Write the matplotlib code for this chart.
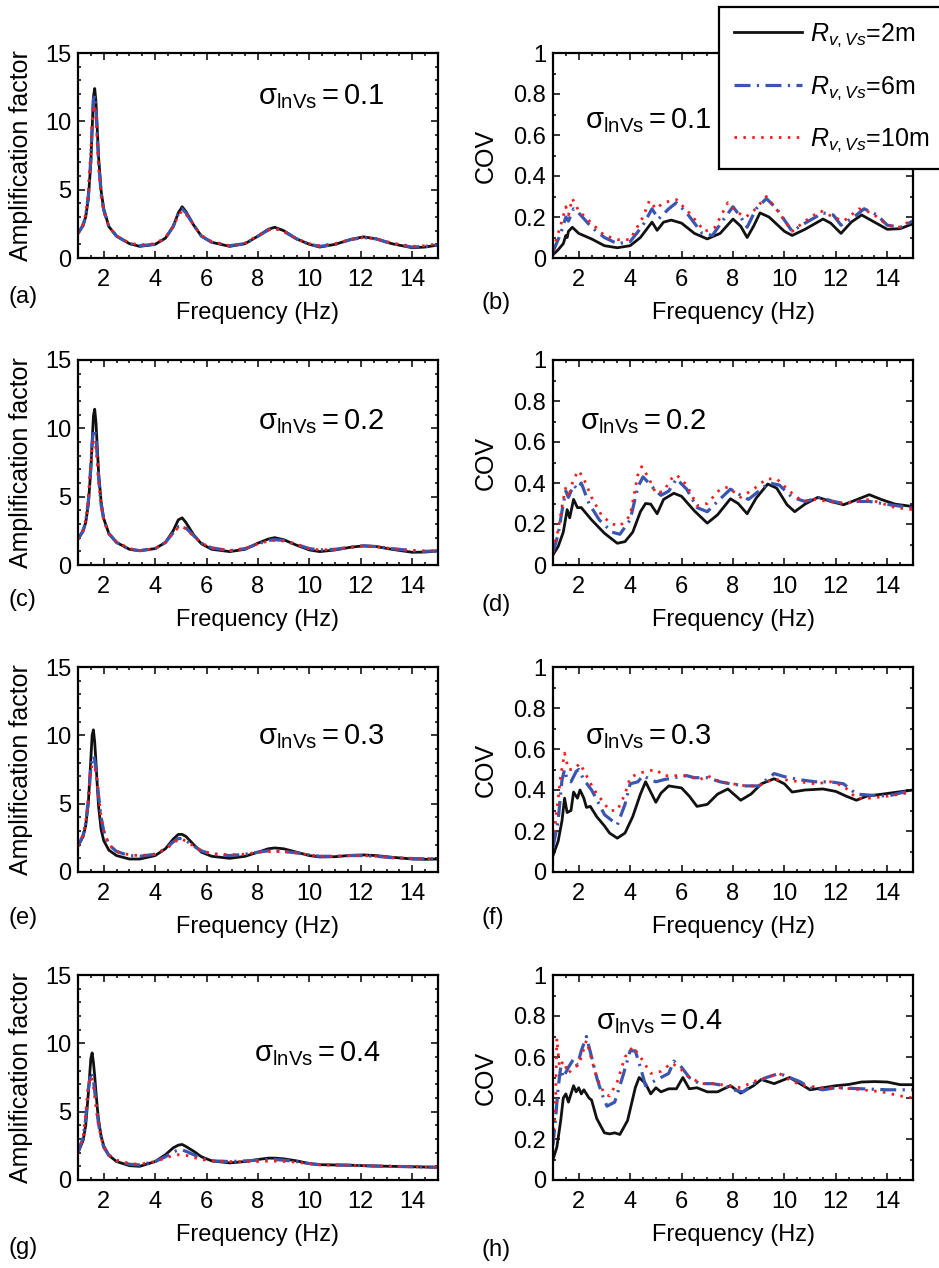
import matplotlib
matplotlib.use('Agg')
import matplotlib.pyplot as plt
from matplotlib.ticker import MultipleLocator

plt.rcParams['font.family'] = ['Liberation Sans', 'DejaVu Sans']
plt.rcParams['mathtext.fontset'] = 'custom'
plt.rcParams['mathtext.rm'] = 'Liberation Sans'
plt.rcParams['mathtext.it'] = 'Liberation Sans:italic'

# amplification factor panels share one frequency grid
f_amp = [1.0, 1.2, 1.3, 1.4, 1.5, 1.55, 1.6, 1.65, 1.7, 1.75, 1.8, 1.9, 2.0, 2.2, 2.5,
         3.0, 3.4, 4.0, 4.4, 4.7, 4.9, 5.05, 5.2, 5.5, 5.8, 6.2, 6.9, 7.5, 8.0, 8.4,
         8.65, 9.0, 9.5, 10.0, 10.4, 11.0, 11.6, 12.1, 12.6, 13.2, 14.0, 14.5, 15.0]

# (a) sigma = 0.1
amp_a_2m = [1.8, 2.4, 3.0, 4.3, 7.0, 9.4, 11.8, 12.4, 11.4, 9.4, 7.4, 4.9, 3.6, 2.3, 1.6,
            1.05, 0.85, 1.0, 1.45, 2.3, 3.3, 3.75, 3.4, 2.4, 1.6, 1.15, 0.85, 1.05, 1.6, 2.1,
            2.25, 2.0, 1.4, 1.0, 0.8, 1.0, 1.35, 1.55, 1.4, 1.05, 0.75, 0.8, 0.95]
amp_a_6m = [1.8, 2.4, 3.1, 4.5, 7.3, 9.6, 11.6, 11.9, 10.8, 8.9, 7.0, 4.7, 3.5, 2.3, 1.6,
            1.05, 0.9, 1.0, 1.45, 2.3, 3.2, 3.6, 3.3, 2.4, 1.6, 1.15, 0.9, 1.05, 1.6, 2.05,
            2.2, 1.95, 1.4, 1.0, 0.85, 1.0, 1.35, 1.5, 1.4, 1.05, 0.8, 0.85, 0.95]
amp_a_10m = [1.8, 2.5, 3.2, 4.8, 7.8, 10.0, 11.0, 11.2, 10.2, 8.4, 6.6, 4.5, 3.4, 2.3, 1.6,
             1.1, 0.95, 1.05, 1.5, 2.3, 3.1, 3.45, 3.2, 2.4, 1.65, 1.2, 0.9, 1.1, 1.65, 2.05,
             2.15, 1.95, 1.4, 1.05, 0.9, 1.05, 1.35, 1.5, 1.4, 1.1, 0.85, 0.9, 1.05]

# (c) sigma = 0.2
amp_c_2m = [1.9, 2.5, 3.1, 4.4, 7.0, 9.0, 10.9, 11.4, 10.4, 8.6, 6.8, 4.6, 3.4, 2.3, 1.65,
            1.15, 1.05, 1.2, 1.65, 2.5, 3.3, 3.45, 3.1, 2.2, 1.55, 1.15, 0.98, 1.15, 1.6, 1.9,
            2.0, 1.85, 1.45, 1.1, 0.98, 1.1, 1.3, 1.4, 1.35, 1.15, 0.93, 0.95, 1.03]
amp_c_6m = [1.9, 2.5, 3.2, 4.6, 7.3, 8.9, 9.9, 9.9, 9.2, 7.9, 6.4, 4.4, 3.3, 2.3, 1.65,
            1.15, 1.05, 1.2, 1.65, 2.35, 2.8, 2.85, 2.7, 2.15, 1.6, 1.25, 1.05, 1.2, 1.55, 1.8,
            1.85, 1.8, 1.5, 1.2, 1.1, 1.15, 1.3, 1.4, 1.35, 1.2, 1.05, 1.0, 1.03]
amp_c_10m = [1.9, 2.6, 3.3, 4.8, 7.4, 8.6, 9.1, 9.0, 8.5, 7.5, 6.1, 4.3, 3.3, 2.3, 1.7,
             1.2, 1.05, 1.2, 1.65, 2.35, 2.75, 2.8, 2.65, 2.1, 1.6, 1.25, 1.05, 1.2, 1.55, 1.75,
             1.8, 1.75, 1.5, 1.2, 1.1, 1.15, 1.3, 1.4, 1.35, 1.2, 1.05, 1.02, 1.05]

# (e) sigma = 0.3
amp_e_2m = [1.9, 2.6, 3.4, 5.0, 8.3, 10.0, 10.4, 9.5, 8.0, 6.3, 4.8, 3.1, 2.3, 1.6, 1.2,
            0.95, 0.95, 1.2, 1.7, 2.4, 2.75, 2.75, 2.6, 2.0, 1.45, 1.15, 1.0, 1.15, 1.45, 1.7,
            1.76, 1.7, 1.45, 1.2, 1.1, 1.12, 1.22, 1.25, 1.2, 1.08, 0.95, 0.93, 0.95]
amp_e_6m = [1.9, 2.7, 3.6, 5.2, 7.6, 8.3, 8.5, 8.2, 7.5, 6.6, 5.6, 4.0, 3.0, 2.0, 1.5,
            1.2, 1.15, 1.3, 1.7, 2.2, 2.45, 2.45, 2.3, 1.9, 1.55, 1.3, 1.2, 1.3, 1.45, 1.55,
            1.55, 1.5, 1.4, 1.25, 1.15, 1.15, 1.2, 1.2, 1.15, 1.05, 0.98, 0.97, 0.97]
amp_e_10m = [1.9, 2.7, 3.7, 5.3, 7.4, 7.8, 7.9, 7.7, 7.2, 6.4, 5.5, 4.0, 3.0, 2.0, 1.5,
             1.25, 1.2, 1.3, 1.65, 2.1, 2.4, 2.4, 2.25, 1.9, 1.55, 1.35, 1.25, 1.3, 1.45, 1.5,
             1.5, 1.5, 1.4, 1.25, 1.15, 1.15, 1.2, 1.2, 1.15, 1.05, 1.0, 0.98, 0.98]

# (g) sigma = 0.4
amp_g_2m = [2.0, 2.9, 4.0, 6.3, 8.9, 9.3, 8.6, 7.6, 6.4, 5.3, 4.4, 3.2, 2.5, 1.8, 1.35,
            1.05, 1.0, 1.35, 1.85, 2.35, 2.55, 2.6, 2.45, 2.1, 1.7, 1.4, 1.25, 1.35, 1.5, 1.6,
            1.6, 1.55, 1.4, 1.2, 1.12, 1.1, 1.08, 1.05, 1.02, 1.0, 0.97, 0.95, 0.93]
amp_g_6m = [2.0, 3.1, 4.5, 6.6, 7.9, 7.8, 7.3, 6.5, 5.6, 4.8, 4.1, 3.1, 2.4, 1.8, 1.4,
            1.15, 1.1, 1.35, 1.7, 2.05, 2.2, 2.2, 2.1, 1.85, 1.6, 1.4, 1.35, 1.4, 1.45, 1.5,
            1.5, 1.45, 1.35, 1.2, 1.12, 1.1, 1.08, 1.05, 1.02, 1.0, 0.97, 0.95, 0.93]
amp_g_10m = [2.0, 3.2, 4.8, 6.9, 7.6, 7.4, 6.9, 6.2, 5.4, 4.7, 4.0, 3.1, 2.4, 1.85, 1.45,
             1.2, 1.15, 1.35, 1.6, 1.8, 1.85, 1.85, 1.8, 1.65, 1.5, 1.4, 1.35, 1.35, 1.35, 1.38,
             1.38, 1.36, 1.3, 1.2, 1.12, 1.1, 1.08, 1.05, 1.02, 1.0, 0.97, 0.95, 0.93]

# (b) COV, sigma = 0.1
f_b_2m = [1.0, 1.2, 1.4, 1.5, 1.55, 1.6, 1.75, 2.0, 2.5, 3.0, 3.5, 4.0, 4.4, 4.7, 4.85,
          5.05, 5.3, 5.6, 6.0, 6.5, 7.0, 7.5, 8.0, 8.3, 8.55, 8.8, 9.05, 9.4, 10.0, 10.3,
          10.8, 11.5, 11.8, 12.2, 12.6, 13.0, 13.5, 14.0, 14.5, 15.0]
cov_b_2m = [0.016, 0.04, 0.07, 0.11, 0.10, 0.13, 0.15, 0.12, 0.093, 0.06, 0.05, 0.06, 0.10,
            0.15, 0.175, 0.135, 0.175, 0.185, 0.17, 0.12, 0.093, 0.12, 0.19, 0.155, 0.10,
            0.155, 0.22, 0.20, 0.13, 0.11, 0.14, 0.19, 0.17, 0.12, 0.175, 0.21, 0.175, 0.14,
            0.143, 0.167]
f_b_6m = [1.0, 1.3, 1.5, 1.6, 1.8, 2.0, 2.5, 3.0, 3.5, 4.0, 4.5, 4.85, 5.1, 5.5, 5.8, 6.2,
          6.8, 7.2, 7.7, 8.0, 8.3, 8.55, 8.9, 9.3, 9.7, 10.3, 10.8, 11.5, 11.9, 12.2, 12.7,
          13.1, 13.6, 14.0, 14.5, 15.0]
cov_b_6m = [0.03, 0.12, 0.20, 0.18, 0.24, 0.22, 0.15, 0.10, 0.07, 0.08, 0.16, 0.24, 0.19,
            0.24, 0.27, 0.22, 0.12, 0.11, 0.20, 0.25, 0.20, 0.15, 0.24, 0.29, 0.24, 0.13,
            0.17, 0.22, 0.21, 0.16, 0.20, 0.24, 0.21, 0.16, 0.15, 0.18]
f_b_10m = [1.0, 1.3, 1.5, 1.6, 1.75, 2.0, 2.5, 3.0, 3.5, 4.0, 4.5, 4.75, 5.0, 5.3, 5.8, 6.3,
           6.9, 7.3, 7.8, 8.2, 8.5, 8.8, 9.3, 9.8, 10.3, 10.8, 11.4, 11.9, 12.3, 12.9, 13.4,
           14.0, 14.5, 15.0]
cov_b_10m = [0.04, 0.16, 0.25, 0.21, 0.29, 0.23, 0.17, 0.11, 0.09, 0.09, 0.20, 0.28, 0.24,
             0.27, 0.285, 0.22, 0.13, 0.15, 0.27, 0.22, 0.20, 0.23, 0.30, 0.22, 0.13, 0.18,
             0.23, 0.20, 0.18, 0.24, 0.22, 0.16, 0.15, 0.19]

# (d) COV, sigma = 0.2
f_d_2m = [1.0, 1.2, 1.4, 1.55, 1.65, 1.8, 1.95, 2.1, 2.5, 3.0, 3.5, 3.8, 4.1, 4.4, 4.6, 4.8,
          5.05, 5.3, 5.7, 6.0, 6.5, 7.0, 7.4, 7.9, 8.2, 8.55, 8.9, 9.35, 9.7, 10.1, 10.4,
          10.8, 11.3, 11.8, 12.3, 12.8, 13.3, 13.8, 14.3, 15.0]
cov_d_2m = [0.05, 0.09, 0.16, 0.27, 0.23, 0.32, 0.28, 0.28, 0.22, 0.155, 0.106, 0.114, 0.16,
            0.26, 0.30, 0.297, 0.25, 0.32, 0.35, 0.335, 0.264, 0.204, 0.245, 0.323, 0.30,
            0.25, 0.326, 0.395, 0.375, 0.294, 0.26, 0.297, 0.33, 0.31, 0.294, 0.318, 0.343,
            0.318, 0.297, 0.285]
f_d_6m = [1.0, 1.2, 1.4, 1.5, 1.6, 1.8, 1.95, 2.1, 2.4, 2.8, 3.3, 3.6, 4.0, 4.3, 4.5, 4.8,
          5.0, 5.2, 5.5, 5.8, 6.2, 6.6, 7.0, 7.4, 7.9, 8.3, 8.6, 9.0, 9.4, 9.8, 10.3, 10.8,
          11.4, 11.9, 12.3, 12.8, 13.3, 13.8, 14.3, 15.0]
cov_d_6m = [0.06, 0.15, 0.30, 0.36, 0.33, 0.39, 0.37, 0.40, 0.30, 0.22, 0.16, 0.15, 0.22,
            0.38, 0.43, 0.39, 0.36, 0.34, 0.36, 0.42, 0.37, 0.28, 0.26, 0.31, 0.37, 0.34,
            0.32, 0.36, 0.40, 0.39, 0.33, 0.31, 0.33, 0.31, 0.30, 0.31, 0.31, 0.30, 0.29, 0.28]
f_d_10m = [1.0, 1.2, 1.4, 1.5, 1.6, 1.8, 2.0, 2.2, 2.5, 2.9, 3.3, 3.6, 4.0, 4.3, 4.45, 4.7,
           5.0, 5.3, 5.6, 5.8, 6.2, 6.6, 7.0, 7.5, 7.8, 8.3, 8.8, 9.3, 9.7, 10.2, 10.7, 11.2,
           11.7, 12.3, 12.8, 13.3, 13.8, 14.3, 15.0]
cov_d_10m = [0.07, 0.17, 0.32, 0.38, 0.33, 0.42, 0.46, 0.42, 0.33, 0.24, 0.20, 0.19, 0.24,
             0.44, 0.48, 0.43, 0.35, 0.36, 0.42, 0.44, 0.39, 0.29, 0.30, 0.37, 0.38, 0.33,
             0.37, 0.42, 0.42, 0.36, 0.31, 0.32, 0.31, 0.30, 0.31, 0.32, 0.30, 0.28, 0.27]

# (f) COV, sigma = 0.3
f_f_2m = [1.0, 1.2, 1.35, 1.45, 1.55, 1.7, 1.8, 1.95, 2.05, 2.2, 2.3, 2.45, 2.7, 3.0, 3.2,
          3.5, 3.8, 4.1, 4.4, 4.6, 4.8, 5.0, 5.2, 5.5, 6.0, 6.3, 6.6, 7.0, 7.4, 7.8, 8.3,
          8.7, 9.1, 9.6, 10.0, 10.3, 10.8, 11.5, 12.0, 12.4, 12.8, 13.2, 14.0, 15.0]
cov_f_2m = [0.08, 0.15, 0.25, 0.36, 0.29, 0.30, 0.39, 0.36, 0.40, 0.36, 0.315, 0.32, 0.27,
            0.225, 0.19, 0.165, 0.19, 0.27, 0.38, 0.44, 0.39, 0.34, 0.385, 0.42, 0.41, 0.37,
            0.32, 0.33, 0.38, 0.405, 0.35, 0.38, 0.43, 0.455, 0.43, 0.39, 0.40, 0.405, 0.393,
            0.37, 0.35, 0.37, 0.383, 0.40]
f_f_6m = [1.0, 1.2, 1.35, 1.45, 1.55, 1.7, 1.9, 2.0, 2.2, 2.5, 2.8, 3.0, 3.3, 3.5, 3.8, 4.0,
          4.3, 4.5, 4.8, 5.0, 5.3, 5.7, 6.2, 6.5, 7.0, 7.5, 7.9, 8.5, 9.0, 9.6, 10.0, 10.6,
          11.2, 11.8, 12.3, 12.8, 13.3, 14.0, 15.0]
cov_f_6m = [0.12, 0.25, 0.45, 0.50, 0.45, 0.44, 0.49, 0.50, 0.45, 0.40, 0.33, 0.28, 0.25,
            0.23, 0.33, 0.43, 0.44, 0.47, 0.45, 0.44, 0.45, 0.46, 0.47, 0.46, 0.46, 0.44,
            0.43, 0.42, 0.42, 0.48, 0.465, 0.45, 0.44, 0.44, 0.43, 0.38, 0.375, 0.37, 0.40]
f_f_10m = [1.0, 1.15, 1.3, 1.45, 1.6, 1.8, 2.05, 2.3, 2.6, 2.9, 3.2, 3.5, 3.8, 4.0, 4.3, 4.6,
           5.0, 5.3, 5.7, 6.2, 6.7, 7.0, 7.5, 8.0, 8.5, 9.0, 9.5, 10.0, 10.6, 11.2, 11.8,
           12.3, 12.8, 13.3, 14.0, 15.0]
cov_f_10m = [0.15, 0.30, 0.47, 0.58, 0.50, 0.50, 0.53, 0.47, 0.40, 0.35, 0.30, 0.30, 0.38,
             0.46, 0.48, 0.49, 0.50, 0.47, 0.47, 0.47, 0.45, 0.47, 0.44, 0.43, 0.42, 0.42,
             0.45, 0.45, 0.44, 0.43, 0.44, 0.42, 0.36, 0.36, 0.37, 0.39]

# (h) COV, sigma = 0.4
f_h_2m = [1.0, 1.15, 1.3, 1.4, 1.5, 1.6, 1.8, 1.9, 2.0, 2.1, 2.2, 2.4, 2.5, 2.7, 3.0, 3.2,
          3.4, 3.6, 3.9, 4.2, 4.35, 4.6, 4.8, 5.0, 5.2, 5.5, 5.8, 6.05, 6.3, 6.6, 7.0, 7.4,
          7.9, 8.3, 8.8, 9.1, 9.6, 10.2, 10.6, 11.0, 11.5, 12.0, 12.5, 13.0, 13.5, 14.0,
          14.5, 15.0]
cov_h_2m = [0.10, 0.16, 0.29, 0.40, 0.42, 0.38, 0.46, 0.43, 0.45, 0.42, 0.44, 0.40, 0.39,
            0.30, 0.23, 0.225, 0.23, 0.222, 0.29, 0.45, 0.50, 0.47, 0.42, 0.45, 0.43, 0.445,
            0.445, 0.50, 0.445, 0.45, 0.43, 0.43, 0.46, 0.424, 0.46, 0.49, 0.47, 0.50, 0.47,
            0.44, 0.45, 0.46, 0.466, 0.478, 0.48, 0.478, 0.465, 0.465]
f_h_6m = [1.0, 1.1, 1.2, 1.3, 1.4, 1.6, 1.8, 1.95, 2.1, 2.3, 2.5, 2.7, 2.9, 3.1, 3.4, 3.7,
          4.0, 4.2, 4.4, 4.6, 4.9, 5.2, 5.5, 5.7, 6.0, 6.3, 6.7, 7.2, 7.7, 8.0, 8.4, 8.8,
          9.3, 9.8, 10.2, 10.6, 11.0, 11.5, 12.0, 13.0, 14.0, 15.0]
cov_h_6m = [0.17, 0.30, 0.45, 0.55, 0.50, 0.55, 0.59, 0.56, 0.63, 0.70, 0.60, 0.50, 0.42,
            0.36, 0.38, 0.50, 0.63, 0.63, 0.55, 0.46, 0.48, 0.50, 0.52, 0.58, 0.55, 0.50,
            0.47, 0.47, 0.46, 0.44, 0.43, 0.47, 0.50, 0.52, 0.50, 0.48, 0.45, 0.44, 0.45,
            0.445, 0.44, 0.44]
f_h_10m = [1.0, 1.1, 1.15, 1.25, 1.4, 1.6, 1.8, 2.0, 2.3, 2.5, 2.7, 3.0, 3.2, 3.5, 3.8, 4.1,
           4.4, 4.8, 5.2, 5.6, 5.9, 6.3, 6.8, 7.3, 7.8, 8.3, 8.8, 9.3, 9.8, 10.3, 10.8, 11.5,
           12.2, 13.0, 13.8, 14.5, 15.0]
cov_h_10m = [0.20, 0.38, 0.69, 0.55, 0.58, 0.52, 0.55, 0.56, 0.68, 0.59, 0.50, 0.42, 0.41,
             0.48, 0.60, 0.65, 0.60, 0.52, 0.53, 0.57, 0.55, 0.50, 0.47, 0.47, 0.46, 0.45,
             0.48, 0.50, 0.52, 0.48, 0.46, 0.45, 0.45, 0.44, 0.43, 0.41, 0.40]

sigmas = ['0.1', '0.2', '0.3', '0.4']
legend_labels = [r'$R_{v,Vs}$=2m', r'$R_{v,Vs}$=6m', r'$R_{v,Vs}$=10m']
amp_ticks = [0, 5, 10, 15]
cov_ticks = [0, 0.2, 0.4, 0.6, 0.8, 1.0]
cov_ticklabels = ['0', '0.2', '0.4', '0.6', '0.8', '1']
freq_ticks = [2, 4, 6, 8, 10, 12, 14]

amp_data = [(amp_a_2m, amp_a_6m, amp_a_10m), (amp_c_2m, amp_c_6m, amp_c_10m),
            (amp_e_2m, amp_e_6m, amp_e_10m), (amp_g_2m, amp_g_6m, amp_g_10m)]
cov_data = [((f_b_2m, cov_b_2m), (f_b_6m, cov_b_6m), (f_b_10m, cov_b_10m)),
            ((f_d_2m, cov_d_2m), (f_d_6m, cov_d_6m), (f_d_10m, cov_d_10m)),
            ((f_f_2m, cov_f_2m), (f_f_6m, cov_f_6m), (f_f_10m, cov_f_10m)),
            ((f_h_2m, cov_h_2m), (f_h_6m, cov_h_6m), (f_h_10m, cov_h_10m))]

# line styles (black solid, blue dash-dot, red dotted)
styles = [dict(color='#111111', lw=2.0, ls='-'),
          dict(color='#3a56b0', lw=2.3, ls=(0, (5.0, 2.0, 0.7, 2.0))),
          dict(color='#ff1a1a', lw=2.0, ls=(0, (0.9, 2.3)))]

W, H = 939, 1268
fig = plt.figure(figsize=(W / 100, H / 100), dpi=100)

row_tops = [53, 360, 667, 975]
ax_h = 205
ax_w = 360
left_x = 78
right_x = 553

# where the sigma text sits in each panel (axes fraction)
amp_txt = [(0.50, 0.785), (0.50, 0.70), (0.50, 0.66), (0.49, 0.615)]
cov_txt = [(0.089, 0.67), (0.075, 0.70), (0.089, 0.66), (0.12, 0.775)]
left_lbl = [('(a)', 297), ('(c)', 600), ('(e)', 918), ('(g)', 1248)]
right_lbl = [('(b)', 303), ('(d)', 605), ('(f)', 918), ('(h)', 1250)]


def style_axes(ax):
    for sp in ax.spines.values():
        sp.set_linewidth(1.6)
    ax.tick_params(which='both', direction='in', top=True, right=True,
                   labelsize=17, width=1.1)
    ax.tick_params(which='major', length=5, pad=5)
    ax.tick_params(which='minor', length=2.5)
    ax.tick_params(axis='x', which='major', pad=8)
    ax.set_xlim(1, 15)
    ax.set_xticks(freq_ticks)
    ax.xaxis.set_minor_locator(MultipleLocator(0.5))
    ax.set_xlabel('Frequency (Hz)', fontsize=17)
    ax.xaxis.set_label_coords(0.5, -0.215)
    ax.xaxis.label.set_va('top')


cov_lines = []
for i in range(4):
    bottom = 1 - (row_tops[i] + ax_h) / H

    # amplification factor
    ax = fig.add_axes([left_x / W, bottom, ax_w / W, ax_h / H])
    for vals, st in zip(amp_data[i], styles):
        ax.plot(f_amp, vals, **st)
    style_axes(ax)
    ax.set_ylim(0, 15)
    ax.set_yticks(amp_ticks)
    ax.yaxis.set_minor_locator(MultipleLocator(1))
    ax.set_ylabel('Amplification factor', fontsize=18)
    ax.yaxis.set_label_coords(-0.125, 0.5)
    ax.text(amp_txt[i][0], amp_txt[i][1],
            r'$\mathrm{σ}_{\mathrm{lnVs}}=\mathrm{' + sigmas[i] + '}$',
            transform=ax.transAxes, fontsize=21, va='center', ha='left')
    fig.text(8 / W, 1 - left_lbl[i][1] / H, left_lbl[i][0], fontsize=17, va='center')

    # COV
    ax2 = fig.add_axes([right_x / W, bottom, ax_w / W, ax_h / H])
    lines = []
    for (ff, vals), st in zip(cov_data[i], styles):
        ln, = ax2.plot(ff, vals, **st)
        lines.append(ln)
    if i == 0:
        cov_lines = lines
    style_axes(ax2)
    ax2.set_ylim(0, 1)
    ax2.set_yticks(cov_ticks)
    ax2.set_yticklabels(cov_ticklabels)
    ax2.yaxis.set_minor_locator(MultipleLocator(0.1))
    ax2.set_ylabel('COV', fontsize=18)
    ax2.yaxis.set_label_coords(-0.153, 0.5)
    ax2.text(cov_txt[i][0], cov_txt[i][1],
             r'$\mathrm{σ}_{\mathrm{lnVs}}=\mathrm{' + sigmas[i] + '}$',
             transform=ax2.transAxes, fontsize=21, va='center', ha='left')
    fig.text(482 / W, 1 - right_lbl[i][1] / H, right_lbl[i][0], fontsize=17, va='center')

leg = fig.legend(cov_lines, legend_labels, loc='upper left',
                 bbox_to_anchor=(719 / W, 1 - 7 / H), fontsize=18,
                 frameon=True, fancybox=False, framealpha=1, edgecolor='black',
                 handlelength=2.7, handletextpad=0.35, borderpad=0.6,
                 labelspacing=1.0, borderaxespad=0)
leg.get_frame().set_linewidth(1.6)

fig.savefig('out.png', dpi=100)
